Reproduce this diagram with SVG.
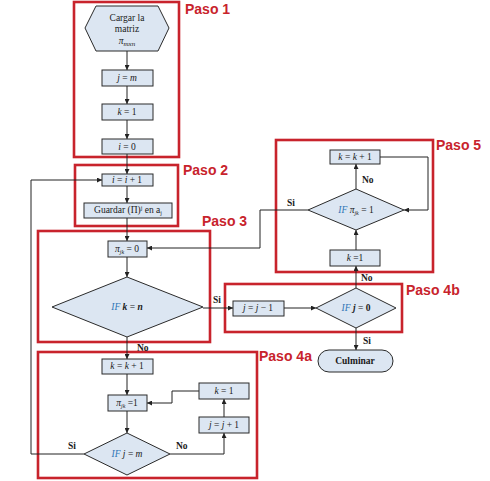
<svg xmlns="http://www.w3.org/2000/svg" width="490" height="481" viewBox="0 0 490 481">
<defs>
<marker id="ah" viewBox="0 0 6 6" refX="6" refY="3" markerWidth="5" markerHeight="5" orient="auto" markerUnits="userSpaceOnUse">
<path d="M0,0 L6,3 L0,6 z" fill="#222"/>
</marker>
<style>
.step{fill:none;stroke:#c8232c;stroke-width:2.6}
.lbl{font-family:"Liberation Sans",Arial,sans-serif;font-weight:bold;font-size:14px;fill:#c8232c}
.bx{fill:#dce6f2;stroke:#2a2a2a;stroke-width:1}
.t{font-family:"Liberation Serif","DejaVu Serif",serif;font-size:9.5px;fill:#1a1a1a;text-anchor:middle}
.m{font-style:italic}
.if{font-style:italic;fill:#2e75b6}
.b{font-weight:bold}
.yn{font-family:"Liberation Serif","DejaVu Serif",serif;font-size:9.5px;font-weight:bold;fill:#1a1a1a}
.c{fill:none;stroke:#222;stroke-width:1;marker-end:url(#ah)}
</style>
</defs>
<rect width="490" height="481" fill="#fff"/>
<g id="steps">
<rect class="step" x="74" y="2" width="105" height="155"/>
<rect class="step" x="75" y="165" width="103" height="61"/>
<rect class="step" x="38" y="231" width="172" height="111"/>
<rect class="step" x="276" y="140" width="157" height="132"/>
<rect class="step" x="225" y="284" width="177" height="48"/>
<rect class="step" x="38" y="352" width="219" height="126"/>
<text class="lbl" x="185" y="14">Paso 1</text>
<text class="lbl" x="183" y="175">Paso 2</text>
<text class="lbl" x="202" y="226">Paso 3</text>
<text class="lbl" x="436" y="150">Paso 5</text>
<text class="lbl" x="406" y="295">Paso 4b</text>
<text class="lbl" x="259" y="361">Paso 4a</text>
</g>
<g id="connectors">
<path class="c" d="M127,51 V70"/>
<path class="c" d="M127,86 V104"/>
<path class="c" d="M127,120 V139"/>
<path class="c" d="M127,154 V174"/>
<path class="c" d="M127,186 V203"/>
<path class="c" d="M127,218 V241"/>
<path class="c" d="M127,257 V277"/>
<path class="c" d="M127,337 V359"/>
<path class="c" d="M127,374 V395"/>
<path class="c" d="M127,411 V433"/>
<path class="c" d="M203,308 H233"/>
<path class="c" d="M284,308 H316"/>
<path class="c" d="M356,328 V350"/>
<path class="c" d="M356,288 V266"/>
<path class="c" d="M356,250 V230"/>
<path class="c" d="M356,189 V164"/>
<path class="c" d="M380,157 H428 V210 H404"/>
<path class="c" d="M308,210 H260 V248 H147"/>
<path class="c" d="M84,454 H31 V180 H102"/>
<path class="c" d="M170,454 H224 V433"/>
<path class="c" d="M224,417 V399"/>
<path class="c" d="M199,391 H172 V403 H147"/>
<text class="yn" x="213" y="303">Si</text>
<text class="yn" x="137" y="351">No</text>
<text class="yn" x="287" y="206">Si</text>
<text class="yn" x="362" y="183">No</text>
<text class="yn" x="361" y="281">No</text>
<text class="yn" x="363" y="344">Si</text>
<text class="yn" x="68" y="449">Si</text>
<text class="yn" x="176" y="449">No</text>
</g>
<g id="n-cargar">
<polygon class="bx" points="85,28 96,6 158,6 169,28 158,51 96,51"/>
<text class="t" x="127" y="21">Cargar la</text>
<text class="t" x="127" y="32">matriz</text>
<text class="t" x="127" y="44"><tspan class="m">π</tspan><tspan class="m" font-size="7" dy="2">mxn</tspan></text>
</g>
<g id="n-jm"><rect class="bx" x="102" y="70" width="51" height="16"/><text class="t" x="127" y="81"><tspan class="m">j</tspan> = <tspan class="m">m</tspan></text></g>
<g id="n-k1"><rect class="bx" x="102" y="104" width="51" height="16"/><text class="t" x="127" y="115"><tspan class="m">k</tspan> = 1</text></g>
<g id="n-i0"><rect class="bx" x="102" y="139" width="51" height="15"/><text class="t" x="127" y="150"><tspan class="m">i</tspan> = 0</text></g>
<g id="n-ii1"><rect class="bx" x="102" y="174" width="51" height="12"/><text class="t" x="127" y="183"><tspan class="m">i</tspan> = <tspan class="m">i</tspan> + 1</text></g>
<g id="n-guardar"><rect class="bx" x="84" y="203" width="88" height="15"/><text class="t" x="128" y="213">Guardar (Π)<tspan font-size="6" dy="-3">j</tspan><tspan dy="3"> en a</tspan><tspan font-size="6" dy="2">j</tspan></text></g>
<g id="n-pi0"><rect class="bx" x="108" y="241" width="39" height="16"/><text class="t" x="127" y="252"><tspan class="m">π</tspan><tspan class="m" font-size="6" dy="2">jk</tspan><tspan dy="-2"> = 0</tspan></text></g>
<g id="n-ifkn"><polygon class="bx" points="52,307 127,277 203,307 127,337"/><text class="t" x="127" y="310"><tspan class="if">IF</tspan> <tspan class="m b">k</tspan> = <tspan class="m b">n</tspan></text></g>
<g id="n-jj1"><rect class="bx" x="233" y="301" width="51" height="15"/><text class="t" x="258" y="311"><tspan class="m">j</tspan> = <tspan class="m">j</tspan> − 1</text></g>
<g id="n-ifj0"><polygon class="bx" points="316,308 356,288 396,308 356,328"/><text class="t" x="356" y="311"><tspan class="if">IF</tspan> <tspan class="m b">j</tspan> = <tspan class="b">0</tspan></text></g>
<g id="n-culminar"><rect class="bx" x="318" y="350" width="75" height="22" rx="11"/><text class="t b" x="355" y="364" font-size="9">Culminar</text></g>
<g id="n-k1b"><rect class="bx" x="330" y="250" width="50" height="16"/><text class="t" x="355" y="261"><tspan class="m">k</tspan> =1</text></g>
<g id="n-ifpi1"><polygon class="bx" points="308,210 356,189 404,210 356,230"/><text class="t" x="356" y="213"><tspan class="if">IF</tspan> <tspan class="m">π</tspan><tspan class="m" font-size="6" dy="2">jk</tspan><tspan dy="-2"> = 1</tspan></text></g>
<g id="n-kk1b"><rect class="bx" x="330" y="150" width="50" height="14"/><text class="t" x="355" y="160"><tspan class="m">k</tspan> = <tspan class="m">k</tspan> + 1</text></g>
<g id="n-kk1"><rect class="bx" x="102" y="359" width="51" height="15"/><text class="t" x="127" y="369"><tspan class="m">k</tspan> = <tspan class="m">k</tspan> + 1</text></g>
<g id="n-pi1"><rect class="bx" x="108" y="395" width="39" height="16"/><text class="t" x="127" y="406"><tspan class="m">π</tspan><tspan class="m" font-size="6" dy="2">jk</tspan><tspan dy="-2"> =1</tspan></text></g>
<g id="n-ifjm"><polygon class="bx" points="84,454 127,433 170,454 127,475"/><text class="t" x="127" y="457"><tspan class="if">IF</tspan> <tspan class="m">j</tspan> = <tspan class="m">m</tspan></text></g>
<g id="n-k1c"><rect class="bx" x="199" y="383" width="50" height="16"/><text class="t" x="224" y="394"><tspan class="m">k</tspan> = 1</text></g>
<g id="n-jjp1"><rect class="bx" x="199" y="417" width="50" height="16"/><text class="t" x="224" y="428"><tspan class="m">j</tspan> = <tspan class="m">j</tspan> + 1</text></g>
</svg>
